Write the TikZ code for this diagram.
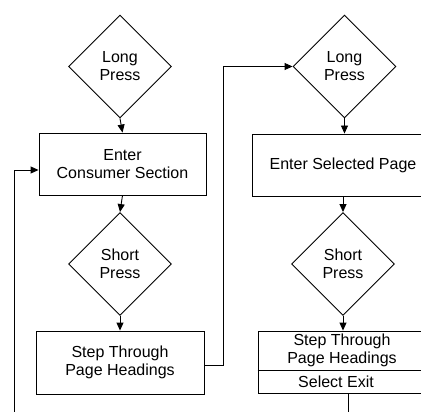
\documentclass[tikz,border=0pt]{standalone}
\usepackage{fontspec}
\setmainfont{Liberation Sans}
\usetikzlibrary{shapes.geometric,arrows.meta}
\begin{document}
\begin{tikzpicture}[x=1pt,y=-1pt,
  line width=0.9pt,
  txt/.style={font=\fontsize{16}{18}\selectfont, align=center},
  dia/.style={draw, shape=diamond, minimum width=103pt, minimum height=103pt, inner sep=0pt, txt},
  box/.style={draw, rectangle, inner sep=0pt, txt},
  arr/.style={-{Triangle[length=8pt,width=7pt]}}]
\path[use as bounding box, clip] (0,0) rectangle (421,412);
% left column
\node[dia] (d1) at (120,66.5) {Long\\Press};
\node[box, minimum width=167pt, minimum height=62pt] (b1) at (122.5,164) {Enter\\Consumer Section};
\node[dia] (d2) at (120,264) {Short\\Press};
\node[box, minimum width=168pt, minimum height=63pt] (b2) at (120,362.5) {Step Through\\Page Headings};
% right column
\node[dia] (d3) at (344.5,66.5) {Long\\Press};
\node[box, minimum width=182pt, minimum height=62pt] (b3) at (343,165) {Enter Selected Page};
\node[dia] (d4) at (343,264) {Short\\Press};
\node[box, minimum width=170pt, minimum height=62pt] (b4) at (343,362) {};
\draw (b4.west |- 0,370) -- (b4.east |- 0,370);
\node[txt] (t4a) at (342,350) {Step Through\\Page Headings};
\node[txt] (t4b) at (336,382) {Select Exit};
% connectors
\draw[arr] (d1.south) -- (b1.north);
\draw[arr] (b1.south) -- (d2.north);
\draw[arr] (d2.south) -- (b2.north);
\draw[arr] (d3.south) -- (b3.north -| d3.south);
\draw[arr] (b3.south) -- (d4.north);
\draw[arr] (d4.south) -- (b4.north);
\coordinate (fb) at (14,416);
\draw[arr] (fb) |- ([yshift=-6pt]b1.west);
\draw[arr] ([yshift=-2.5pt]b2.east) -- ++(19,0) |- (d3.west);
\coordinate (ex) at (348,416);
\draw (b4.south -| ex) -- (ex);
\end{tikzpicture}
\end{document}
